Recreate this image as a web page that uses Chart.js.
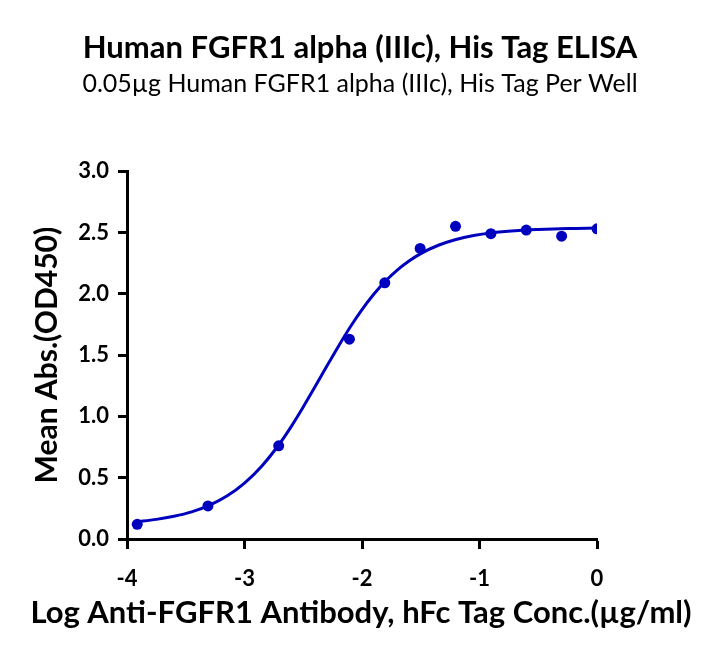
<!DOCTYPE html>
<html>
<head>
<meta charset="utf-8">
<script src="https://cdn.jsdelivr.net/npm/chart.js@4/dist/chart.umd.min.js"></script>
<style>
  html, body { margin: 0; padding: 0; background: #ffffff; }
  #wrap { width: 720px; height: 662px; }
</style>
</head>
<body>
<div id="wrap"><canvas id="c" width="720" height="662"></canvas></div>
<script>
// Measured points: log concentration (µg/ml) vs mean absorbance (OD450)
const logConc = [-3.913, -3.311, -2.709, -2.107, -1.806, -1.505, -1.204, -0.903, -0.602, -0.301, 0];
const meanAbs = [0.12, 0.27, 0.76, 1.63, 2.09, 2.37, 2.55, 2.49, 2.52, 2.47, 2.53];

// Fitted curve
const curveX = [-3.92, -3.75, -3.6, -3.45, -3.3, -3.15, -3.0, -2.85, -2.7, -2.6, -2.5, -2.4, -2.3, -2.2, -2.1, -2.0, -1.9, -1.8, -1.7, -1.6, -1.5, -1.35, -1.2, -1.05, -0.9, -0.7, -0.5, -0.25, 0];
const curveY = [0.141, 0.160, 0.185, 0.221, 0.274, 0.350, 0.456, 0.598, 0.779, 0.921, 1.077, 1.241, 1.409, 1.573, 1.729, 1.871, 1.996, 2.104, 2.194, 2.268, 2.328, 2.396, 2.443, 2.475, 2.497, 2.515, 2.525, 2.533, 2.536];

const xTicks = [-4, -3, -2, -1, 0];
const yTicks = [0, 0.5, 1.0, 1.5, 2.0, 2.5, 3.0];

const titleText = 'Human FGFR1 alpha (IIIc), His Tag ELISA';
const subtitleText = '0.05µg Human FGFR1 alpha (IIIc), His Tag Per Well';
const xTitle = 'Log Anti-FGFR1 Antibody, hFc Tag Conc.(µg/ml)';
const yTitle = 'Mean Abs.(OD450)';

const BLUE = '#0000bf';
const FONT = 'Lato';

const points = logConc.map((x, i) => ({ x: x, y: meanAbs[i] }));
const curve = curveX.map((x, i) => ({ x: x, y: curveY[i] }));

// x-axis title drawn unsqueezed (Chart.js limits axis titles to the axis width)
const xTitlePlugin = {
  id: 'xTitlePlugin',
  afterDraw(chart) {
    const ctx = chart.ctx;
    ctx.save();
    ctx.fillStyle = '#000';
    ctx.font = 'bold 31px ' + FONT;
    ctx.textAlign = 'center';
    ctx.textBaseline = 'middle';
    ctx.fillText(xTitle, chart.width / 2 + 1, 613);
    ctx.restore();
  }
};

new Chart(document.getElementById('c'), {
  type: 'scatter',
  data: {
    datasets: [
      {
        label: 'fit',
        data: curve,
        showLine: true,
        borderColor: BLUE,
        borderWidth: 3,
        pointRadius: 0,
        cubicInterpolationMode: 'monotone',
        fill: false,
        order: 2
      },
      {
        label: 'data',
        data: points,
        showLine: false,
        pointRadius: 5.5,
        pointBackgroundColor: BLUE,
        pointBorderColor: BLUE,
        pointBorderWidth: 0,
        order: 1
      }
    ]
  },
  plugins: [xTitlePlugin],
  options: {
    responsive: false,
    animation: false,
    devicePixelRatio: 1,
    layout: { padding: 0 },
    plugins: {
      legend: { display: false },
      tooltip: { enabled: false },
      title: {
        display: true,
        text: titleText,
        color: '#000',
        font: { family: FONT, size: 31, weight: 'bold', lineHeight: 1.2 },
        padding: { top: 29, bottom: 2 }
      },
      subtitle: {
        display: true,
        text: subtitleText,
        color: '#000',
        font: { family: FONT, size: 25, weight: 'normal', lineHeight: 1.2 },
        padding: { top: 1, bottom: 72 }
      }
    },
    scales: {
      x: {
        type: 'linear',
        min: -4,
        max: 0,
        afterBuildTicks: (s) => { s.ticks = xTicks.map(v => ({ value: v })); },
        afterFit: (s) => { s.height = 123; },
        border: { display: true, color: '#000', width: 3 },
        grid: { display: true, drawOnChartArea: false, drawTicks: true, tickLength: 10, tickWidth: 3, tickColor: '#000' },
        ticks: {
          color: '#000',
          padding: 17,
          font: { family: FONT, size: 22, weight: 'bold' },
          callback: (v) => String(v)
        },
        title: { display: false }
      },
      y: {
        type: 'linear',
        position: 'left',
        min: 0,
        max: 3,
        afterBuildTicks: (s) => { s.ticks = yTicks.map(v => ({ value: v })); },
        afterFit: (s) => { s.width = 127; },
        border: { display: true, color: '#000', width: 3 },
        grid: { display: true, drawOnChartArea: false, drawTicks: true, tickLength: 9, tickWidth: 3, tickColor: '#000' },
        ticks: {
          color: '#000',
          padding: 9,
          font: { family: FONT, size: 22, weight: 'bold' },
          callback: (v) => Number(v).toFixed(1)
        },
        title: {
          display: true,
          text: yTitle,
          color: '#000',
          font: { family: FONT, size: 30, weight: 'bold', lineHeight: 1.2 },
          padding: { top: 29, bottom: 0 }
        }
      },
      yRightSpace: {
        type: 'linear',
        position: 'right',
        display: true,
        min: 0,
        max: 3,
        afterFit: (s) => { s.width = 123; },
        border: { display: false },
        grid: { display: false, drawTicks: false },
        ticks: { display: false }
      }
    }
  }
});
</script>
</body>
</html>
